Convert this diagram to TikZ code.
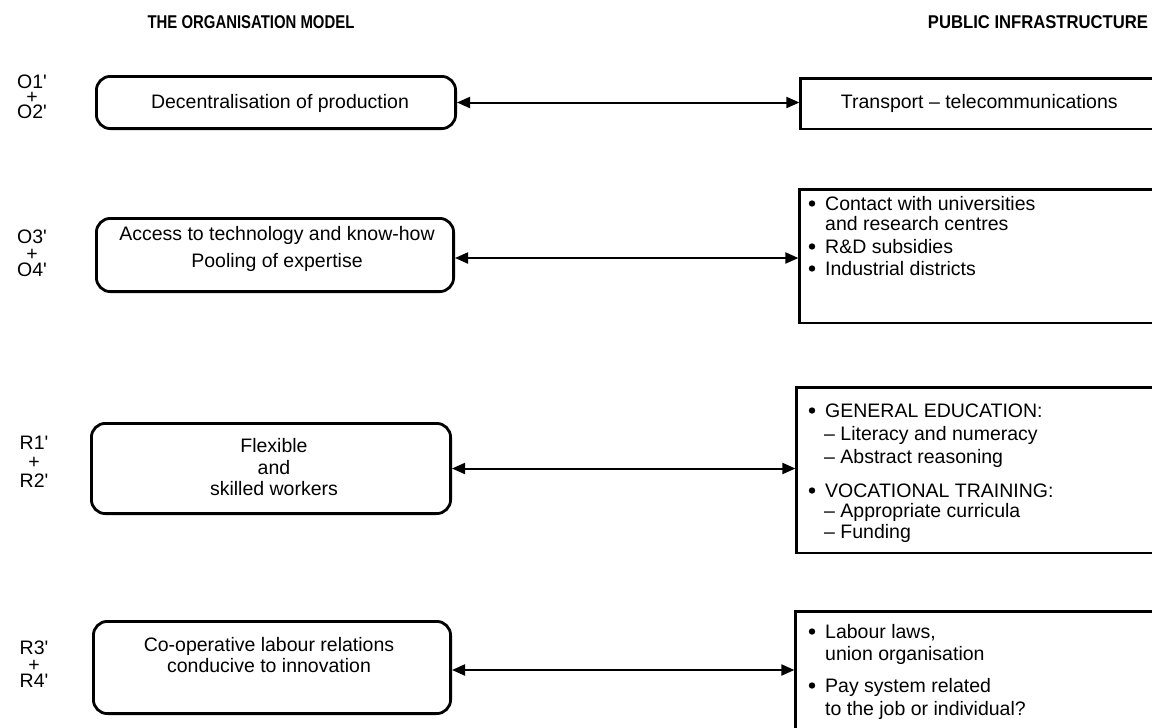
\documentclass[tikz,border=0pt]{standalone}
\usepackage{fontspec}
\setmainfont{Liberation Sans}
\usetikzlibrary{arrows.meta}

\begin{document}
\begin{tikzpicture}[x=1pt, y=-1pt,
  txt/.style={inner sep=0pt, font=\fontsize{19.5}{22}\selectfont},
  line/.style={txt, anchor=base west},
  cline/.style={txt, anchor=base},
  lab/.style={inner sep=0pt, align=center, font=\fontsize{19.5}{#1}\selectfont},
  head/.style={inner sep=0pt, anchor=base, font=\fontsize{18.5}{21}\selectfont\bfseries},
  orgbox/.style={draw, line width=2.8pt, rounded corners=14pt, inner sep=0pt},
  pubbox/.style={draw, line width=2.8pt, inner sep=0pt, anchor=north west,
                 font=\fontsize{19.5}{22}\selectfont},
  link/.style={line width=2pt, {Triangle[length=13pt,width=11pt]}-{Triangle[length=13pt,width=11pt]}},
  dot/.style={fill=black}
]
% page frame
\useasboundingbox (0,0) rectangle (1152,728);
\clip (0,0) rectangle (1152,728);
\fill[white] (0,0) rectangle (1152,728);

% column headings
\node[head] (h1) at (251,28) {\scalebox{0.806}[1]{THE ORGANISATION MODEL}};
\node[head] (h2) at (1038,28) {\scalebox{0.9}[1]{PUBLIC INFRASTRUCTURE}};

% row labels
\node[lab=15]   (l1) at (32,96.95)  {O1\textquotesingle\\+\\O2\textquotesingle};
\node[lab=16.5] (l2) at (32,253.45) {O3\textquotesingle\\+\\O4\textquotesingle};
\node[lab=19]   (l3) at (34,461.95) {R1\textquotesingle\\+\\R2\textquotesingle};
\node[lab=16.5] (l4) at (34,664.45) {R3\textquotesingle\\+\\R4\textquotesingle};

% organisation model boxes
\node[orgbox, minimum width=359.2pt, minimum height=52.2pt] (b1) at (276,102.5) {};
\node[orgbox, minimum width=357.2pt, minimum height=73.2pt] (b2) at (275,255) {};
\node[orgbox, minimum width=359.2pt, minimum height=90.2pt] (b3) at (271,468.5) {};
\node[orgbox, minimum width=357.2pt, minimum height=92.2pt] (b4) at (272,667.5) {};

\node[cline] (t1) at (280,108) {Decentralisation of production};
\node[cline] (t2a) at (277,240) {Access to technology and know-how};
\node[cline] (t2b) at (277,267) {Pooling of expertise};
\node[cline] (t3a) at (274,452) {Flexible};
\node[cline] (t3b) at (274,474) {and};
\node[cline] (t3c) at (274,495) {skilled workers};
\node[cline] (t4a) at (269,651) {Co-operative labour relations};
\node[cline] (t4b) at (269,672) {conducive to innovation};

% public infrastructure boxes
\node[pubbox, minimum width=357pt, minimum height=50.2pt] (p1) at (799.4,77.4)
  {Transport -- telecommunications};
\node[pubbox, minimum width=380pt, minimum height=133.2pt] (p2) at (798.4,188.4) {};
\node[pubbox, minimum width=380pt, minimum height=165.2pt] (p3) at (795.4,386.4) {};
\node[pubbox, minimum width=380pt, minimum height=140pt] (p4) at (794.4,610.4) {};

% infrastructure lists
\fill[dot] (812,203.5) circle[radius=3.2pt];
\node[line] (q2a) at (825,210) {Contact with universities};
\node[line] (q2b) at (825,230) {and research centres};
\fill[dot] (812,246.5) circle[radius=3.2pt];
\node[line] (q2c) at (825,253) {R\&D subsidies};
\fill[dot] (812,268.5) circle[radius=3.2pt];
\node[line] (q2d) at (825,275) {Industrial districts};

\fill[dot] (812,410.5) circle[radius=3.2pt];
\node[line] (q3a) at (825,417) {GENERAL EDUCATION:};
\node[line] (q3b) at (824,440) {-- Literacy and numeracy};
\node[line] (q3c) at (824,463) {-- Abstract reasoning};
\fill[dot] (812,490.5) circle[radius=3.2pt];
\node[line] (q3d) at (825,497) {VOCATIONAL TRAINING:};
\node[line] (q3e) at (824,517) {-- Appropriate curricula};
\node[line] (q3f) at (824,538) {-- Funding};

\fill[dot] (812,631.5) circle[radius=3.2pt];
\node[line] (q4a) at (825,638) {Labour laws,};
\node[line] (q4b) at (825,660) {union organisation};
\fill[dot] (812,685.5) circle[radius=3.2pt];
\node[line] (q4c) at (825,692) {Pay system related};
\node[line] (q4d) at (825,715) {to the job or individual?};

% connectors
\coordinate (r2) at (0,258);
\coordinate (r4) at (0,670);
\draw[link] (b1.east) -- (p1.west |- b1.east);
\draw[link] (b2.east |- r2) -- (p2.west |- r2);
\draw[link] (b3.east) -- (p3.west |- b3.east);
\draw[link] (b4.east |- r4) -- (p4.west |- r4);
\end{tikzpicture}
\end{document}
